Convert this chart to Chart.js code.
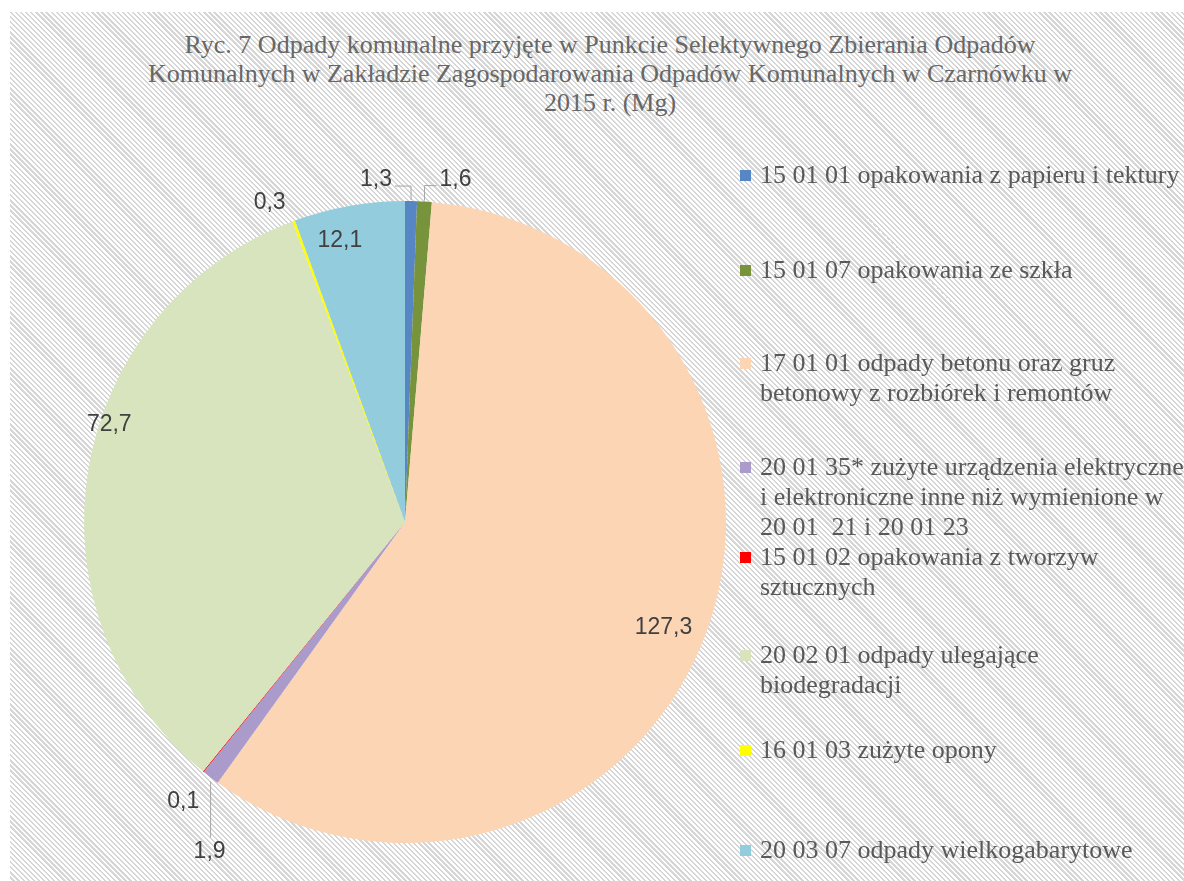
<!DOCTYPE html>
<html lang="pl">
<head>
<meta charset="utf-8">
<title>Ryc. 7 Odpady komunalne 2015</title>
<script src="https://cdn.jsdelivr.net/npm/chart.js@4.4.1/dist/chart.umd.min.js"></script>
<style>
  html, body { margin: 0; padding: 0; background: #fff; }
  #wrap { position: relative; width: 1184px; height: 881px; overflow: hidden; }
  #bg {
    position: absolute; left: 10px; top: 12px; right: 0; bottom: 0;
    background: repeating-linear-gradient(45deg, #fff 0px, #fff 2px, #d6d6d6 2px, #d6d6d6 3.6px);
  }
  #chart { position: absolute; left: 0; top: 0; }
  #title {
    position: absolute; left: 60px; width: 1100px; top: 30px;
    text-align: center; font-family: "Liberation Serif", "Times New Roman", serif;
    font-size: 26px; line-height: 29px; color: #676767;
  }
  #legend { position: absolute; left: 0; top: 0; font-family: "Liberation Serif", "Times New Roman", serif; font-size: 26px; color: #595959; }
  .item { position: absolute; left: 760px; line-height: 30px; white-space: pre; }
  .item i { position: absolute; left: -20px; top: 10px; width: 11px; height: 11px; }
</style>
</head>
<body>
<div id="wrap">
  <div id="bg"></div>
  <div id="title">Ryc. 7 Odpady komunalne przyjęte w Punkcie Selektywnego Zbierania Odpadów<br>Komunalnych w Zakładzie Zagospodarowania Odpadów Komunalnych w Czarnówku w<br>2015 r. (Mg)</div>
  <canvas id="chart" width="1184" height="881"></canvas>
  <div id="legend"></div>
</div>
<script>
// ===== DATA =====
const categories = [
  "15 01 01 opakowania z papieru i tektury",
  "15 01 07 opakowania ze szkła",
  "17 01 01 odpady betonu oraz gruz\nbetonowy z rozbiórek i remontów",
  "20 01 35* zużyte urządzenia elektryczne\ni elektroniczne inne niż wymienione w\n20 01  21 i 20 01 23",
  "15 01 02 opakowania z tworzyw\nsztucznych",
  "20 02 01 odpady ulegające\nbiodegradacji",
  "16 01 03 zużyte opony",
  "20 03 07 odpady wielkogabarytowe"
];
const values = [1.3, 1.6, 127.3, 1.9, 0.1, 72.7, 0.3, 12.1];
const colors = ["#5686c4", "#77933c", "#fcd5b5", "#ab9bcb", "#ff0000", "#d7e4bd", "#ffff00", "#93cddd"];

// ===== LAYOUT (label placement per slice, legend rows) =====
// in: fraction of radius + angle tweak (deg); out: px offset from rim point
const labelPlace = [
  { out: [-35, -21], leader: true },
  { out: [31, -22], leader: true },
  { inF: 0.87, da: 2 },
  { out: [-1, 74], leader: true },
  { out: [-20, 30] },
  { inF: 0.97, da: 9 },
  { out: [-24, -18] },
  { inF: 0.9, da: -3 }
];
const legendTops = [160, 255, 348, 452, 542, 640, 735, 835];

function fmt(v) { return String(v).replace(".", ","); }

// ===== DATA LABELS PLUGIN =====
const pieLabels = {
  id: "pieLabels",
  afterDatasetsDraw(chart) {
    const ctx = chart.ctx;
    const arcs = chart.getDatasetMeta(0).data;
    ctx.save();
    ctx.font = '23px "Liberation Sans", Arial, sans-serif';
    ctx.fillStyle = "#404040";
    ctx.textAlign = "center";
    ctx.textBaseline = "middle";
    arcs.forEach((arc, i) => {
      const p = arc.getProps(["x", "y", "startAngle", "endAngle", "outerRadius"], true);
      const mid = (p.startAngle + p.endAngle) / 2;
      const cfg = labelPlace[i];
      const text = fmt(values[i]);
      let lx, ly;
      if (cfg.inF) {
        const a = mid + (cfg.da || 0) * Math.PI / 180;
        lx = p.x + Math.cos(a) * p.outerRadius * cfg.inF;
        ly = p.y + Math.sin(a) * p.outerRadius * cfg.inF;
      } else {
        const rx = p.x + Math.cos(mid) * p.outerRadius;
        const ry = p.y + Math.sin(mid) * p.outerRadius;
        lx = rx + cfg.out[0];
        ly = ry + cfg.out[1];
        if (cfg.leader) {
          const hw = ctx.measureText(text).width / 2 + 3;
          ctx.strokeStyle = "#a6a6a6";
          ctx.lineWidth = 1;
          ctx.beginPath();
          ctx.moveTo(rx, ry - (ly < ry ? 1 : -4));
          if (Math.abs(cfg.out[0]) < hw) {
            ctx.lineTo(rx, ly + (ly > ry ? -14 : 14));
          } else {
            const ey = ly + 6;
            ctx.lineTo(rx, ey);
            ctx.lineTo(lx + (cfg.out[0] < 0 ? hw : -hw), ey);
          }
          ctx.stroke();
        }
      }
      ctx.fillText(text, lx, ly);
    });
    ctx.restore();
  }
};

// ===== CHART =====
const chart = new Chart(document.getElementById("chart"), {
  type: "pie",
  data: {
    labels: categories,
    datasets: [{
      data: values,
      backgroundColor: colors,
      borderWidth: 0
    }]
  },
  options: {
    responsive: false,
    animation: false,
    layout: { padding: { left: 84, right: 458, top: 201, bottom: 38 } },
    plugins: {
      legend: { display: false },
      title: { display: false },
      tooltip: { enabled: false }
    }
  },
  plugins: [pieLabels]
});

// ===== LEGEND (built from chart data) =====
const legendEl = document.getElementById("legend");
chart.data.labels.forEach((lbl, i) => {
  const item = document.createElement("div");
  item.className = "item";
  item.style.top = legendTops[i] + "px";
  const box = document.createElement("i");
  box.style.background = chart.data.datasets[0].backgroundColor[i];
  item.appendChild(box);
  item.appendChild(document.createTextNode(lbl));
  legendEl.appendChild(item);
});
</script>
</body>
</html>
